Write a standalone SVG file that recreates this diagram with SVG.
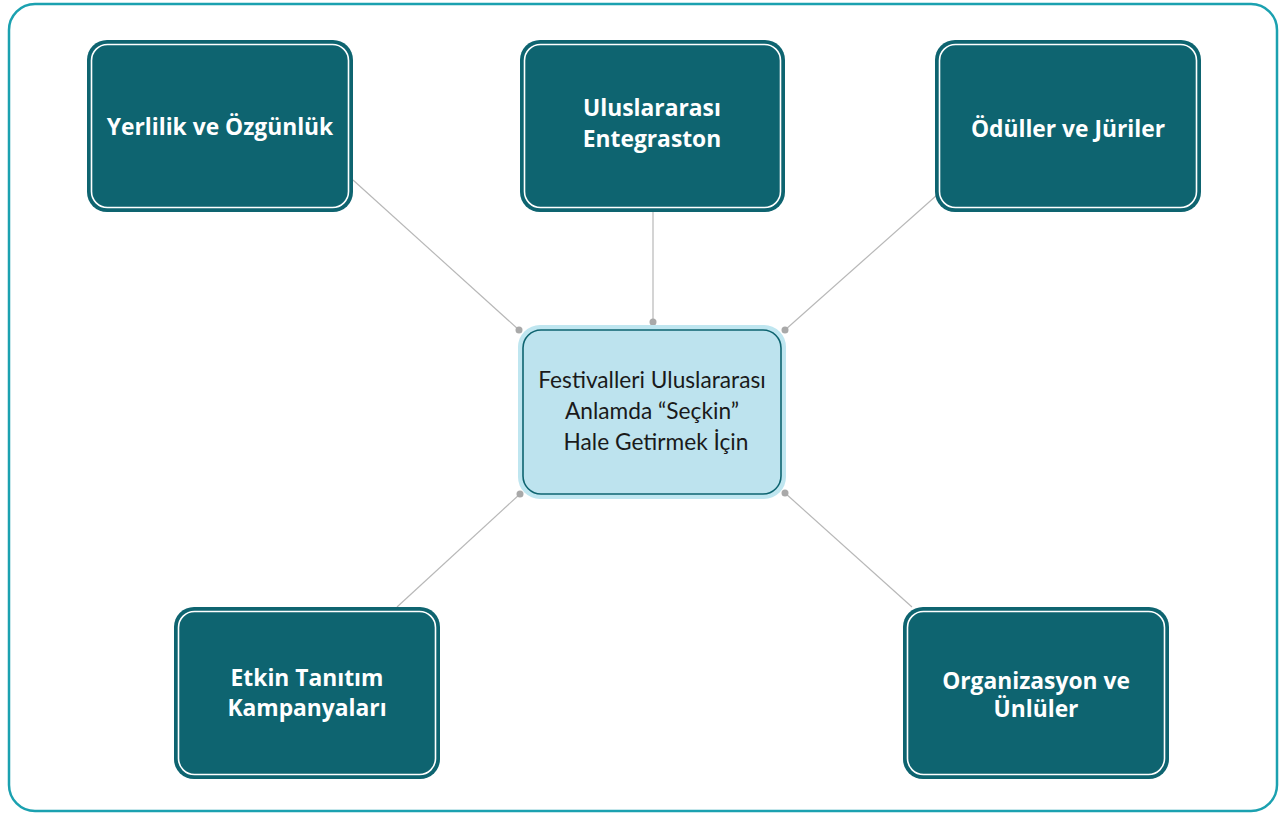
<svg xmlns="http://www.w3.org/2000/svg" width="1282" height="815" viewBox="0 0 1282 815">
<defs>
<style>
.frame{fill:#ffffff;stroke:#1ba1b0;stroke-width:2.5}
.box{fill:#0e6470}
.inner{fill:none;stroke:#ffffff;stroke-width:1.6}
.t{font-family:"Open Sans",Lato,sans-serif;font-weight:bold;font-size:22.8px;fill:#ffffff;text-anchor:middle}
.ct{font-family:Lato,"Open Sans",sans-serif;font-size:22.7px;fill:#1a1a1a;text-anchor:middle}
.ln{stroke:#b8b8b8;stroke-width:1.2;fill:none}
.dot{fill:#a9a9a9}
</style>
</defs>
<rect class="frame" x="9" y="4" width="1268" height="807" rx="26"/>
<g id="connectors">
<line class="ln" x1="353" y1="180" x2="519" y2="330"/>
<line class="ln" x1="653" y1="212" x2="653" y2="322"/>
<line class="ln" x1="937" y1="195" x2="785" y2="330"/>
<line class="ln" x1="397" y1="607" x2="520" y2="494"/>
<line class="ln" x1="912" y1="607" x2="785" y2="493"/>
<circle class="dot" cx="519" cy="330" r="3.5"/>
<circle class="dot" cx="653" cy="322" r="3.5"/>
<circle class="dot" cx="785" cy="330" r="3.5"/>
<circle class="dot" cx="520" cy="494" r="3.5"/>
<circle class="dot" cx="785" cy="493" r="3.5"/>
</g>
<g id="center">
<rect x="518" y="325" width="268" height="174" rx="22" fill="#bfe6f0"/>
<rect x="523" y="330" width="258" height="164" rx="18" fill="#bde3ee" stroke="#0e6470" stroke-width="1.6"/>
<text class="ct" x="652" y="388">Festivalleri Uluslararası</text>
<text class="ct" x="652" y="419">Anlamda “Seçkin”</text>
<text class="ct" x="656" y="450">Hale Getirmek İçin</text>
</g>
<g id="n1">
<rect class="box" x="87" y="40" width="266" height="172" rx="20"/>
<rect class="inner" x="91.5" y="44.5" width="257" height="163" rx="16"/>
<text class="t" x="220" y="135">Yerlilik ve Özgünlük</text>
</g>
<g id="n2">
<rect class="box" x="520" y="40" width="265" height="172" rx="20"/>
<rect class="inner" x="524.5" y="44.5" width="256" height="163" rx="16"/>
<text class="t" x="652" y="116">Uluslararası</text>
<text class="t" x="652" y="147">Entegraston</text>
</g>
<g id="n3">
<rect class="box" x="935" y="40" width="266" height="172" rx="20"/>
<rect class="inner" x="939.5" y="44.5" width="257" height="163" rx="16"/>
<text class="t" x="1068" y="137">Ödüller ve Jüriler</text>
</g>
<g id="n4">
<rect class="box" x="174" y="607" width="266" height="172" rx="20"/>
<rect class="inner" x="178.5" y="611.5" width="257" height="163" rx="16"/>
<text class="t" x="307" y="686">Etkin Tanıtım</text>
<text class="t" x="307" y="716">Kampanyaları</text>
</g>
<g id="n5">
<rect class="box" x="903" y="607" width="266" height="172" rx="20"/>
<rect class="inner" x="907.5" y="611.5" width="257" height="163" rx="16"/>
<text class="t" x="1036" y="689">Organizasyon ve</text>
<text class="t" x="1036" y="717">Ünlüler</text>
</g>
</svg>
